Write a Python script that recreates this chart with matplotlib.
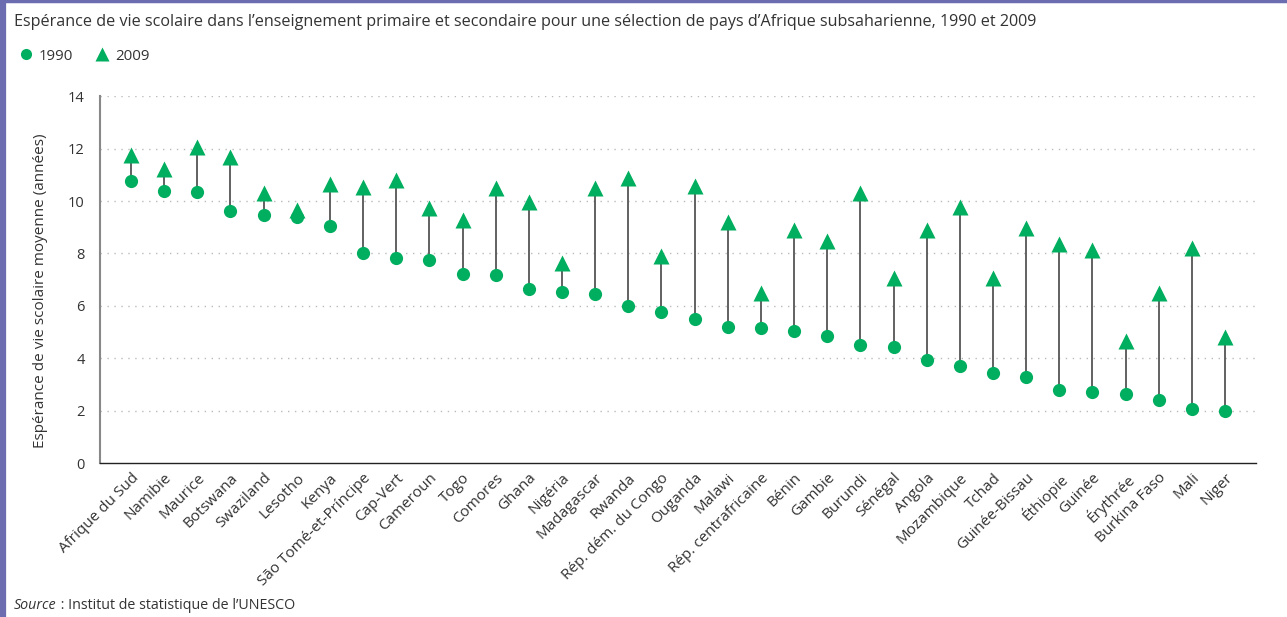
import matplotlib
matplotlib.use("Agg")
import matplotlib.pyplot as plt
from matplotlib.lines import Line2D

pays = ["Afrique du Sud", "Namibie", "Maurice", "Botswana", "Swaziland", "Lesotho",
        "Kenya", "São Tomé-et-Príncipe", "Cap-Vert", "Cameroun", "Togo", "Comores",
        "Ghana", "Nigéria", "Madagascar", "Rwanda", "Rép. dém. du Congo", "Ouganda",
        "Malawi", "Rép. centrafricaine", "Bénin", "Gambie", "Burundi", "Sénégal",
        "Angola", "Mozambique", "Tchad", "Guinée-Bissau", "Éthiopie", "Guinée",
        "Érythrée", "Burkina Faso", "Mali", "Niger"]

v1990 = [10.78, 10.40, 10.34, 9.61, 9.46, 9.40, 9.03, 8.00, 7.84, 7.74, 7.20, 7.18,
         6.63, 6.52, 6.45, 6.00, 5.77, 5.51, 5.19, 5.18, 5.03, 4.84, 4.52, 4.45,
         3.95, 3.73, 3.44, 3.31, 2.81, 2.72, 2.65, 2.42, 2.08, 1.99]

v2009 = [11.74, 11.21, 12.07, 11.67, 10.29, 9.66, 10.63, 10.54, 10.79, 9.73, 9.29, 10.48,
         9.96, 7.65, 10.50, 10.87, 7.92, 10.56, 9.19, 6.48, 8.89, 8.46, 10.32, 7.06,
         8.89, 9.79, 7.05, 8.96, 8.37, 8.15, 4.66, 6.48, 8.22, 4.83]

yticks = [0, 2, 4, 6, 8, 10, 12, 14]

vert = "#00AE5F"
texte = "#333333"
plt.rcParams['font.family'] = ['Open Sans', 'DejaVu Sans']

fig = plt.figure(figsize=(12.87, 6.17), dpi=100)
ax = fig.add_axes([0.0777, 0.2488, 0.8983, 0.5956])

x = list(range(len(pays)))
ax.vlines(x, v1990, v2009, color="#555555", lw=1.3, zorder=2)
ax.plot(x, v1990, 'o', color=vert, ms=9.5, mec='none', zorder=3)
ax.plot(x, v2009, '^', color=vert, ms=11, mec='none', zorder=3)

ax.set_xlim(-0.935, len(pays) - 1 + 0.935)
ax.set_ylim(0, 14)
ax.set_yticks(yticks)
ax.set_yticklabels([str(t) for t in yticks], fontsize=10.5, color=texte)
for t in yticks[1:]:
    ax.axhline(t, color="#bbbbbb", lw=1, ls=(0, (1, 4)), zorder=1)

ax.set_xticks(x)
ax.set_xticklabels(pays, rotation=45, ha='right', rotation_mode='anchor',
                   fontsize=11, color=texte)
ax.tick_params(axis='both', length=0)
ax.tick_params(axis='y', pad=11)
ax.tick_params(axis='x', pad=5)

ax.spines['top'].set_visible(False)
ax.spines['right'].set_visible(False)
ax.spines['left'].set_color("#888888")
ax.spines['left'].set_linewidth(1.5)
ax.spines['bottom'].set_color("#222222")
ax.spines['bottom'].set_linewidth(1.0)

ax.set_ylabel("Espérance de vie scolaire moyenne (années)", fontsize=11, color=texte)
ax.yaxis.set_label_coords(-0.045, 0.47)

fig.text(14 / 1287, 1 - 22 / 617, "Espérance de vie scolaire dans l’enseignement primaire et "
         "secondaire pour une sélection de pays d’Afrique subsaharienne, 1990 et 2009",
         fontsize=11.6, color=texte, va='center', ha='left')

handles = [Line2D([], [], ls='none', marker='o', color=vert, ms=8, mec='none'),
           Line2D([], [], ls='none', marker='^', color=vert, ms=10, mec='none')]
fig.legend(handles, ["1990", "2009"], loc='center left', bbox_to_anchor=(4 / 1287, 1 - 56 / 617),
           ncol=2, frameon=False, fontsize=10.8, handletextpad=0.3, columnspacing=1.4,
           handlelength=1.1, labelcolor=texte)

src = fig.text(14 / 1287, 1 - 613 / 617, "Source", fontstyle='italic', fontsize=10.3,
               color=texte, va='bottom', ha='left')
ax.annotate(" : Institut de statistique de l’UNESCO", xy=(1, 0), xycoords=src,
            fontsize=10.3, color=texte, va='bottom', ha='left')

# cadre violet (haut et gauche)
fig.add_artist(Line2D([0, 1], [1 - 1 / 617, 1 - 1 / 617], transform=fig.transFigure,
                      color="#6B6DB0", lw=2.5))
fig.add_artist(Line2D([2.5 / 1287, 2.5 / 1287], [0, 1], transform=fig.transFigure,
                      color="#6B6DB0", lw=4.5))

fig.savefig("out.png", dpi=100, facecolor='white')
